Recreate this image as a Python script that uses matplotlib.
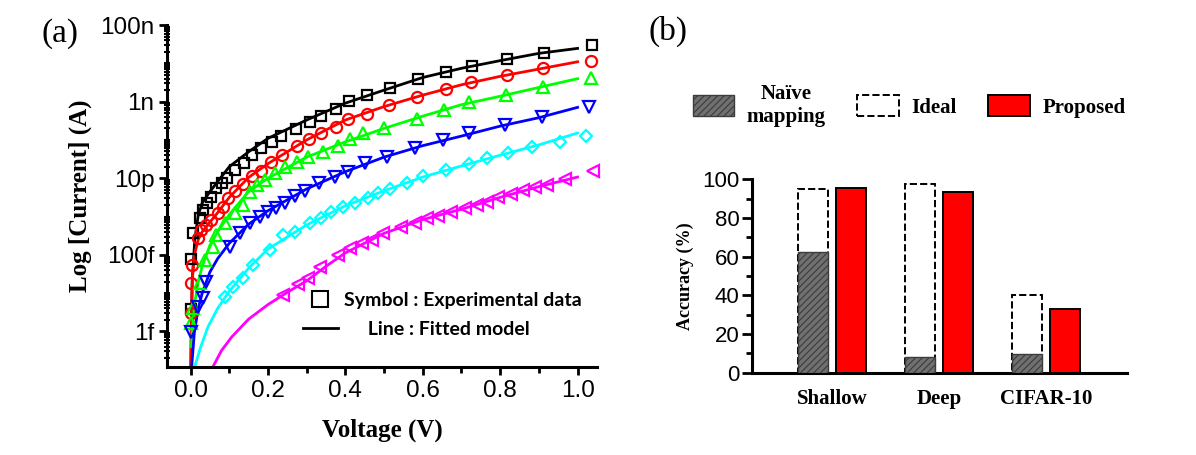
import numpy as np
import matplotlib as mpl
mpl.use('Agg')
import matplotlib.pyplot as plt
from matplotlib.lines import Line2D
from matplotlib.patches import Patch
from matplotlib.ticker import FixedLocator, FixedFormatter, LogLocator, NullFormatter, MultipleLocator

# ---- (a) I-V data, current stored as log10(A) ----
black_v = [0.0, 0.002, 0.005, 0.024, 0.033, 0.043, 0.054, 0.067, 0.080, 0.093, 0.116, 0.139, 0.159, 0.183,
           0.211, 0.233, 0.272, 0.308, 0.338, 0.377, 0.410, 0.456, 0.516, 0.587, 0.660, 0.728, 0.817, 0.913, 1.036]
black_i = [-14.42, -13.11, -12.42, -12.05, -11.83, -11.65, -11.48, -11.26, -11.12, -11.00, -10.79, -10.60, -10.39,
           -10.22, -10.05, -9.89, -9.72, -9.52, -9.37, -9.20, -8.98, -8.83, -8.65, -8.42, -8.22, -8.06, -7.89, -7.72, -7.52]
black_fit_v = [0.001, 0.004, 0.011, 0.02, 0.03, 0.05, 0.1, 0.15, 0.2, 0.3, 0.4, 0.5, 0.6, 0.7, 0.8, 0.9, 1.0]
black_fit_i = [-15.9, -13.7, -12.6, -11.95, -11.65, -11.35, -10.7, -10.31, -9.96, -9.48, -9.04, -8.70, -8.37,
               -8.13, -7.93, -7.74, -7.61]

red_v = [0.0, 0.001, 0.004, 0.020, 0.028, 0.041, 0.054, 0.071, 0.084, 0.097, 0.114, 0.136, 0.159, 0.183, 0.209,
         0.235, 0.274, 0.306, 0.338, 0.377, 0.407, 0.455, 0.514, 0.584, 0.659, 0.724, 0.817, 0.911, 1.034]
red_i = [-14.53, -13.74, -13.27, -12.57, -12.35, -12.22, -12.09, -11.92, -11.74, -11.52, -11.34, -11.15, -10.94,
         -10.80, -10.57, -10.39, -10.16, -9.98, -9.83, -9.65, -9.45, -9.33, -9.09, -8.87, -8.68, -8.50, -8.31, -8.13, -7.93]
red_fit_v = [0.0005, 0.002, 0.005, 0.01, 0.02, 0.03, 0.05, 0.07, 0.1, 0.15, 0.2, 0.3, 0.4, 0.5, 0.6, 0.7, 0.8, 0.9, 1.0]
red_fit_i = [-15.9, -14.5, -13.6, -13.0, -12.6, -12.4, -12.15, -11.9, -11.5, -10.98, -10.62, -10.0, -9.48, -9.13,
             -8.83, -8.56, -8.34, -8.15, -7.96]

green_v = [0.0, 0.007, 0.024, 0.037, 0.058, 0.067, 0.089, 0.114, 0.136, 0.153, 0.171, 0.192, 0.218, 0.244, 0.274,
           0.304, 0.341, 0.380, 0.412, 0.446, 0.500, 0.584, 0.655, 0.720, 0.815, 0.911, 1.034]
green_i = [-14.79, -14.40, -13.74, -13.14, -12.79, -12.48, -12.18, -11.92, -11.70, -11.35, -11.18, -11.05, -10.87,
           -10.72, -10.57, -10.44, -10.32, -10.16, -9.98, -9.83, -9.68, -9.45, -9.22, -9.02, -8.83, -8.61, -8.39]
green_fit_v = [0.002, 0.005, 0.01, 0.02, 0.03, 0.05, 0.07, 0.1, 0.15, 0.2, 0.3, 0.4, 0.5, 0.6, 0.7, 0.8, 0.9, 1.0]
green_fit_i = [-15.4, -14.9, -14.3, -13.7, -13.3, -12.75, -12.4, -11.95, -11.35, -11.0, -10.45, -10.05, -9.7,
               -9.38, -9.08, -8.86, -8.63, -8.4]

blue_v = [0.0, 0.020, 0.033, 0.041, 0.102, 0.127, 0.153, 0.179, 0.201, 0.222, 0.244, 0.27, 0.295, 0.332, 0.373,
          0.406, 0.450, 0.508, 0.580, 0.651, 0.720, 0.812, 0.909, 1.030]
blue_i = [-15.01, -14.36, -14.14, -13.70, -12.79, -12.42, -12.18, -12.01, -11.87, -11.79, -11.66, -11.47, -11.33,
          -11.13, -10.96, -10.83, -10.61, -10.44, -10.22, -10.00, -9.83, -9.61, -9.39, -9.15]
blue_fit_v = [0.003, 0.01, 0.02, 0.03, 0.05, 0.07, 0.1, 0.15, 0.2, 0.3, 0.4, 0.5, 0.6, 0.7, 0.8, 0.9, 1.0]
blue_fit_i = [-15.9, -15.0, -14.4, -14.0, -13.45, -13.1, -12.7, -12.2, -11.85, -11.28, -10.83, -10.45, -10.15,
              -9.9, -9.64, -9.42, -9.15]

cyan_v = [0.089, 0.110, 0.136, 0.162, 0.205, 0.239, 0.270, 0.308, 0.338, 0.364, 0.394, 0.425, 0.459, 0.485,
          0.515, 0.558, 0.601, 0.661, 0.720, 0.765, 0.821, 0.881, 0.954, 1.023]
cyan_i = [-14.09, -13.83, -13.61, -13.27, -12.87, -12.48, -12.40, -12.18, -12.05, -11.87, -11.74, -11.66, -11.52,
          -11.39, -11.27, -11.12, -10.94, -10.79, -10.63, -10.48, -10.35, -10.19, -10.05, -9.90]
cyan_fit_v = [0.011, 0.025, 0.045, 0.07, 0.1, 0.15, 0.2, 0.3, 0.4, 0.5, 0.6, 0.7, 0.8, 0.9, 1.0]
cyan_fit_i = [-15.92, -15.44, -14.88, -14.4, -13.95, -13.35, -12.85, -12.22, -11.72, -11.33, -10.97, -10.68,
              -10.4, -10.13, -9.82]

magenta_v = [0.239, 0.278, 0.304, 0.334, 0.381, 0.412, 0.442, 0.468, 0.498, 0.545, 0.580, 0.610, 0.640, 0.674,
             0.709, 0.739, 0.765, 0.795, 0.829, 0.859, 0.890, 0.920, 0.967, 1.04]
magenta_i = [-14.05, -13.75, -13.6, -13.31, -13.01, -12.83, -12.70, -12.61, -12.44, -12.27, -12.18, -12.05, -11.99,
             -11.87, -11.79, -11.70, -11.61, -11.50, -11.41, -11.31, -11.24, -11.18, -11.02, -10.8]
magenta_fit_v = [0.058, 0.08, 0.106, 0.15, 0.2, 0.25, 0.3, 0.35, 0.4, 0.5, 0.6, 0.7, 0.8, 0.9, 1.0]
magenta_fit_i = [-15.92, -15.5, -15.15, -14.68, -14.3, -13.98, -13.68, -13.3, -12.95, -12.44, -12.08, -11.81,
                 -11.5, -11.22, -10.97]

ytick_vals = [1e-15, 1e-13, 1e-11, 1e-9, 1e-7]
ytick_labels = ['1f', '100f', '10p', '1n', '100n']

# ---- (b) accuracy data ----
categories = ['Shallow', 'Deep', 'CIFAR-10']
naive = [62.2, 8.3, 9.5]
ideal = [94.8, 97.6, 40.2]
proposed = [95.3, 93.6, 33.1]

# configuration
mpl.rcParams['font.family'] = 'Liberation Sans'
mpl.rcParams['hatch.linewidth'] = 0.8
serif_bold = {'family': 'Liberation Serif', 'weight': 'bold'}

fig = plt.figure(figsize=(11.96, 4.55), dpi=100)

# ---------------- (a) ----------------
ax1 = fig.add_axes([0.1396, 0.1934, 0.3595, 0.7516])
sets = [
    (black_v, black_i, black_fit_v, black_fit_i, 'black', 's', 7),
    (red_v, red_i, red_fit_v, red_fit_i, '#ff0000', 'o', 8),
    (green_v, green_i, green_fit_v, green_fit_i, '#00ff00', '^', 8.5),
    (blue_v, blue_i, blue_fit_v, blue_fit_i, '#0000ff', 'v', 8.5),
    (cyan_v, cyan_i, cyan_fit_v, cyan_fit_i, '#00ffff', 'D', 6.5),
    (magenta_v, magenta_i, magenta_fit_v, magenta_fit_i, '#ff00ff', '<', 8.5),
]
for v, i, fv, fi, c, m, ms in sets:
    ax1.plot(fv, 10 ** np.array(fi), color=c, lw=2.0, zorder=2)
    ax1.plot(v, 10 ** np.array(i), ls='none', marker=m, ms=ms, mfc='none', mec=c, mew=1.6, zorder=3,
             clip_on=False)

ax1.set_yscale('log')
ax1.set_xlim(-0.061, 1.05)
ax1.set_ylim(10 ** -15.93, 1e-7)
ax1.yaxis.set_major_locator(FixedLocator(ytick_vals))
ax1.yaxis.set_major_formatter(FixedFormatter(ytick_labels))
ax1.yaxis.set_minor_locator(LogLocator(base=10, subs=np.arange(1, 10), numticks=60))
ax1.yaxis.set_minor_formatter(NullFormatter())
ax1.xaxis.set_major_locator(MultipleLocator(0.2))
ax1.xaxis.set_minor_locator(MultipleLocator(0.1))
ax1.xaxis.set_major_formatter(mpl.ticker.FormatStrFormatter('%.1f'))
for s in ['top', 'right']:
    ax1.spines[s].set_visible(False)
for s in ['left', 'bottom']:
    ax1.spines[s].set_linewidth(2.2)
ax1.tick_params(which='major', direction='out', length=6, width=2, labelsize=17.5, pad=3)
ax1.tick_params(axis='y', which='minor', direction='inout', length=5, width=1.5)
ax1.tick_params(axis='x', which='minor', direction='out', length=4, width=2)
ax1.set_xlabel('Voltage (V)', fontdict=serif_bold, fontsize=18, labelpad=12)
ax1.set_ylabel('Log [Current] (A)', fontdict=serif_bold, fontsize=18, labelpad=6)

leg_handles = [Line2D([], [], ls='none', marker='s', ms=12, mfc='none', mec='black', mew=1.5),
               Line2D([], [], color='black', lw=2)]
leg1 = ax1.legend(leg_handles, ['Symbol : Experimental data', '     Line : Fitted model'],
                  loc='lower right', bbox_to_anchor=(1.0, 0.04), frameon=False, handlelength=1.8,
                  handletextpad=0.3, labelspacing=0.6, borderpad=0.3,
                  prop={'family': ['Lato', 'Liberation Sans'], 'weight': 'bold', 'size': 14})

# ---------------- (b) ----------------
ax2 = fig.add_axes([0.6288, 0.1809, 0.3133, 0.4251])
x = np.arange(1, len(categories) + 1)
w = 0.28
off = 0.175
ax2.bar(x - off, ideal, w, facecolor='white', edgecolor='black', linestyle='--', lw=1.4, zorder=2)
ax2.bar(x - off, naive, w, facecolor='#707070', edgecolor='#3c3c3c', hatch='/////', lw=1.0, zorder=3)
ax2.bar(x + off, proposed, w, facecolor='#ff0000', edgecolor='black', lw=1.4, zorder=3)
ax2.set_xlim(0.251, 3.754)
ax2.set_ylim(0, 100)
ax2.set_xticks(x)
ax2.set_xticklabels(categories, fontdict=serif_bold, fontsize=15)
ax2.yaxis.set_major_locator(MultipleLocator(20))
ax2.yaxis.set_minor_locator(MultipleLocator(10))
for s in ['top', 'right']:
    ax2.spines[s].set_visible(False)
for s in ['left', 'bottom']:
    ax2.spines[s].set_linewidth(2.2)
ax2.tick_params(axis='y', which='major', direction='out', length=7, width=2, labelsize=16, pad=2)
ax2.tick_params(axis='y', which='minor', direction='out', length=4, width=2)
ax2.tick_params(axis='x', length=0, pad=12)
ax2.set_ylabel('Accuracy (%)', fontdict=serif_bold, fontsize=13, labelpad=6)

handles2 = [Patch(facecolor='#707070', edgecolor='#3c3c3c', hatch='/////', lw=1.0),
            Patch(facecolor='white', edgecolor='black', linestyle='--', lw=1.4),
            Patch(facecolor='#ff0000', edgecolor='black', lw=1.4)]
leg2 = fig.legend(handles2, ['Naïve\nmapping', 'Ideal', 'Proposed'], ncol=3, loc='center',
                  bbox_to_anchor=(0.760, 0.769), frameon=False, handlelength=2.0, handleheight=1.15,
                  handletextpad=0.6, columnspacing=1.5,
                  prop={'family': 'Liberation Serif', 'weight': 'bold', 'size': 15})
for t in leg2.get_texts():
    t.set_multialignment('center')

# panel labels
fig.text(0.050, 0.927, '(a)', family='Liberation Serif', fontsize=24, ha='center', va='center')
fig.text(0.5585, 0.930, '(b)', family='Liberation Serif', fontsize=24, ha='center', va='center')

plt.savefig('out.png', dpi=100)
